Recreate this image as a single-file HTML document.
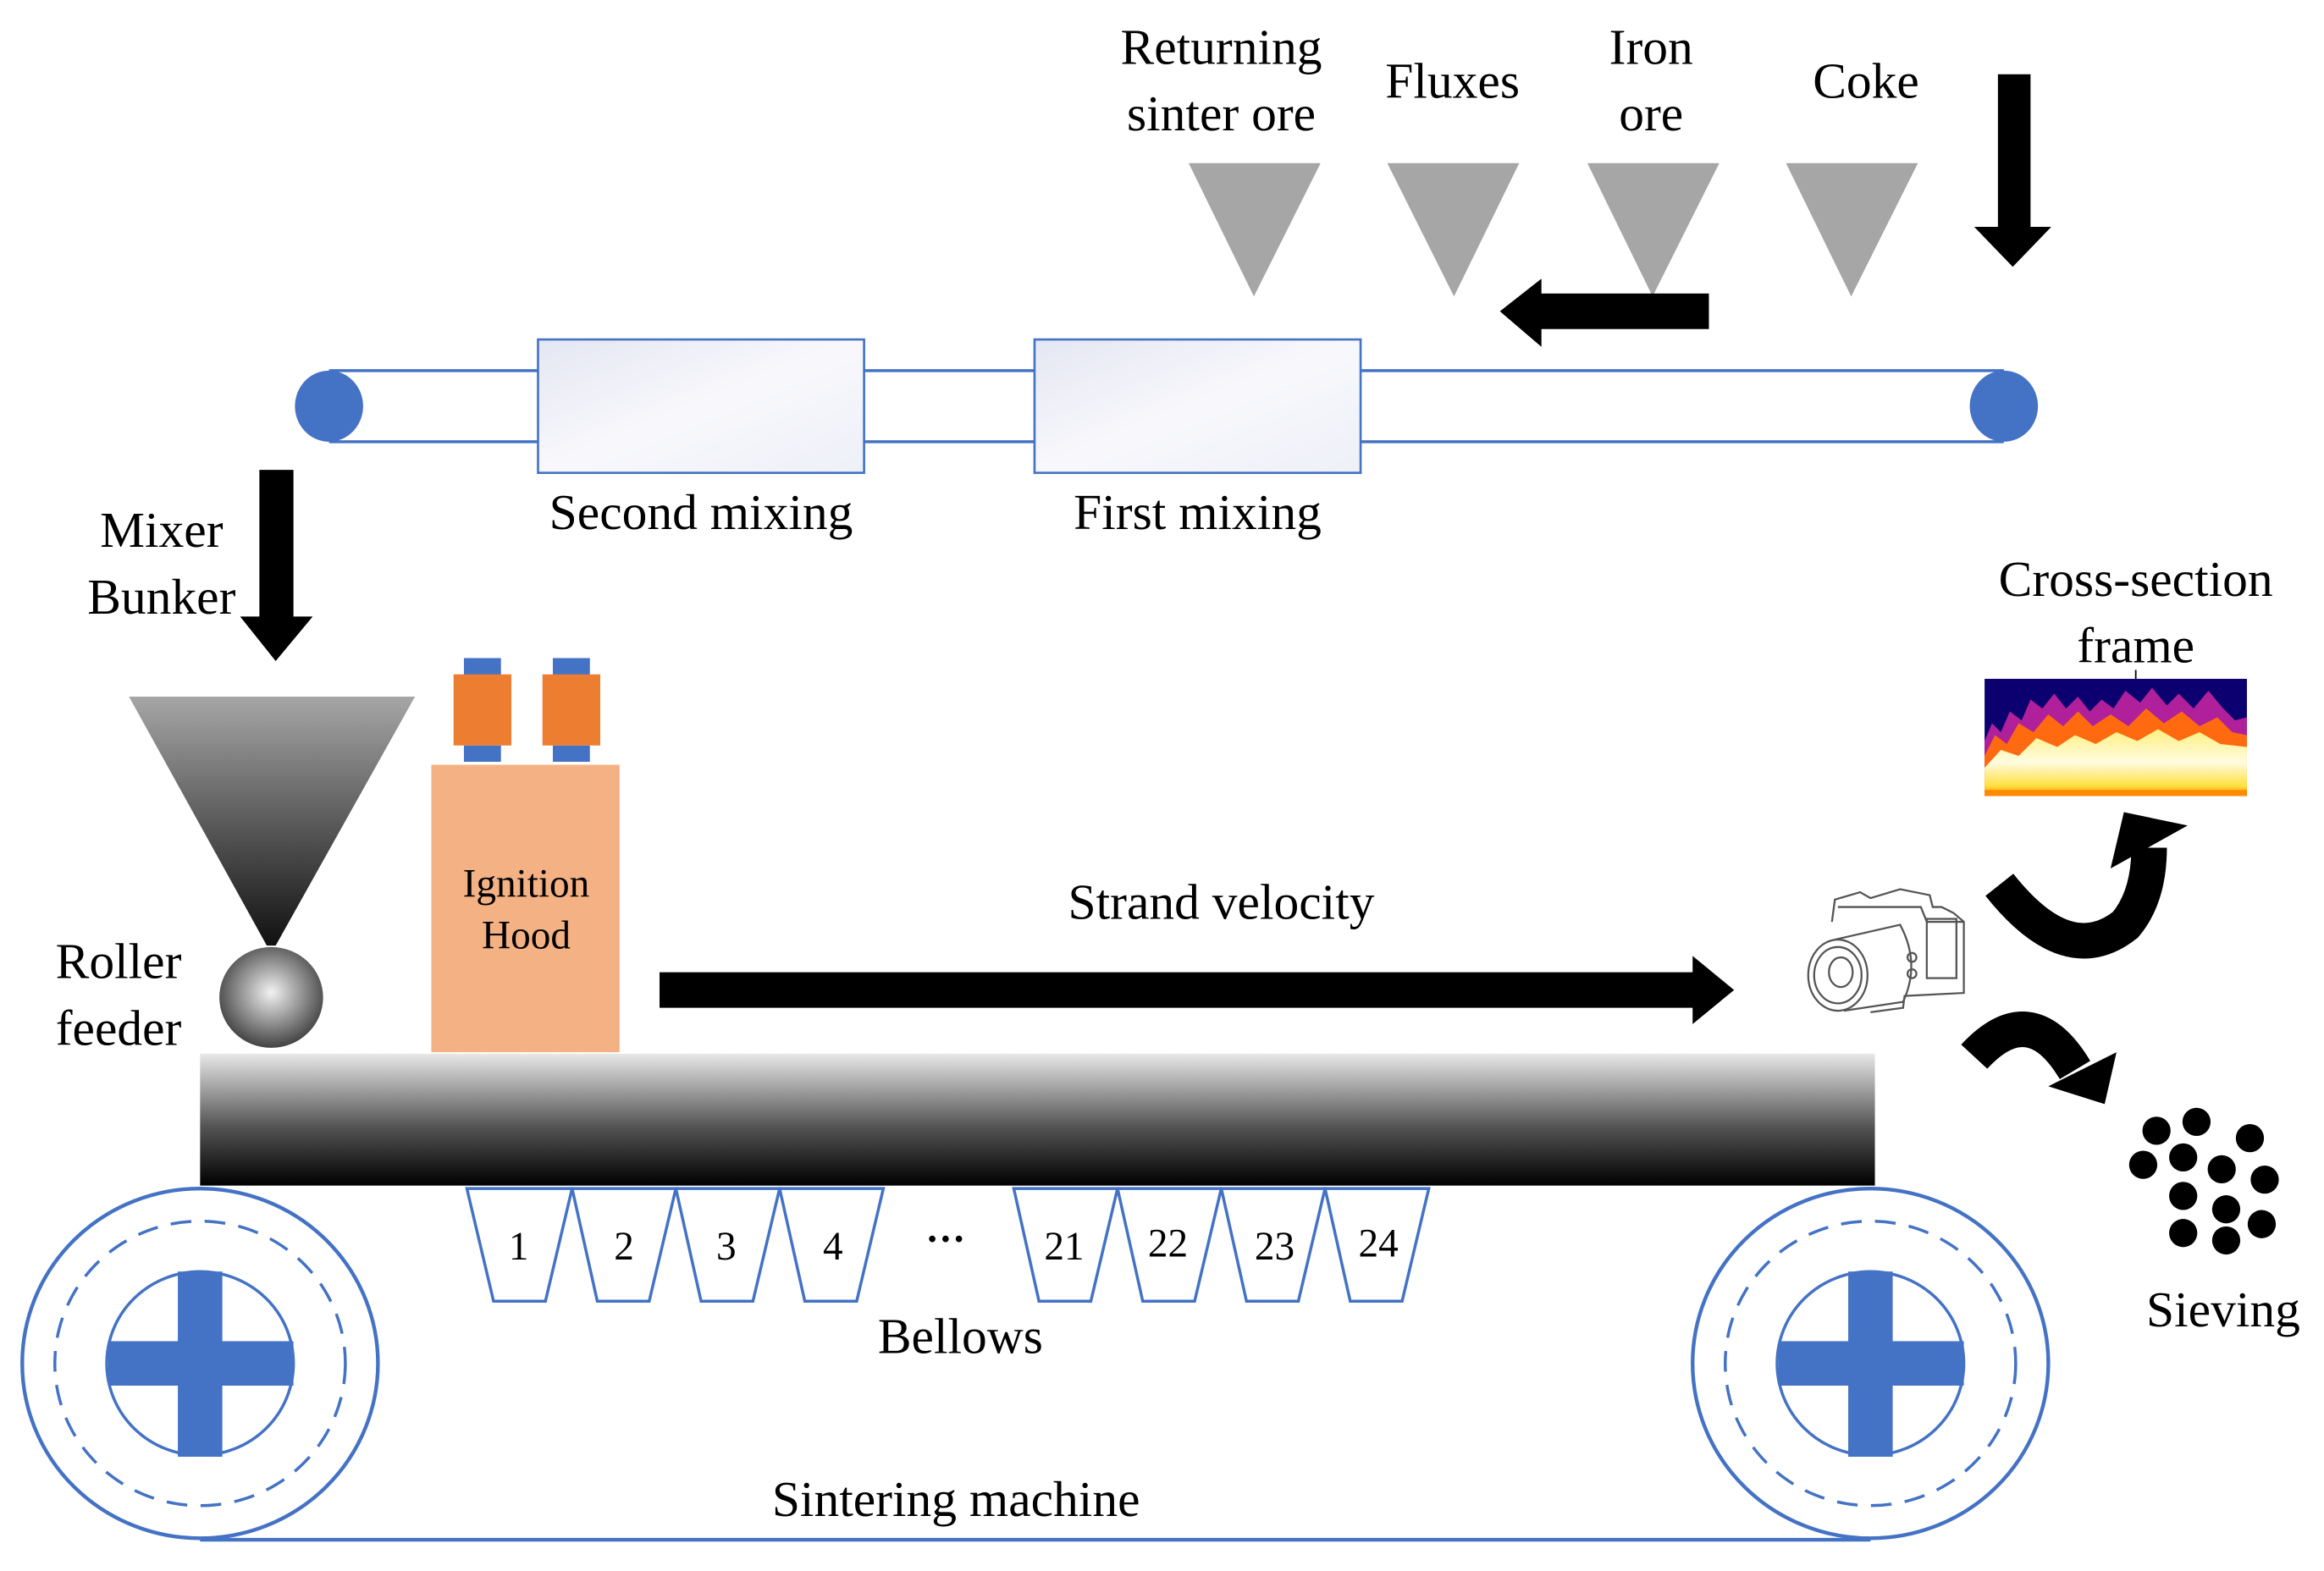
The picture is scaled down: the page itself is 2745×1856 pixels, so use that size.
<!DOCTYPE html>
<html><head><meta charset="utf-8"><style>
html,body{margin:0;padding:0;background:#fff;}
svg{display:block;}
text{font-family:"Liberation Serif","Times New Roman","DejaVu Serif",serif;fill:#000;}
</style></head><body>
<svg width="2745" height="1856" viewBox="0 0 1568 1060" xmlns="http://www.w3.org/2000/svg" font-family="Liberation Serif, Times New Roman, DejaVu Serif, serif">
<defs>
<linearGradient id="hop" x1="0" y1="0" x2="0" y2="1"><stop offset="0" stop-color="#a6a6a6"/><stop offset="1" stop-color="#111"/></linearGradient>
<linearGradient id="bar" x1="0" y1="0" x2="0" y2="1"><stop offset="0" stop-color="#e8e8e8"/><stop offset="0.55" stop-color="#555"/><stop offset="1" stop-color="#000"/></linearGradient>
<radialGradient id="ball" cx="0.5" cy="0.45" r="0.6"><stop offset="0" stop-color="#f2f2f2"/><stop offset="1" stop-color="#333"/></radialGradient>
<linearGradient id="box" x1="0" y1="0" x2="1" y2="1"><stop offset="0" stop-color="#e4e6f2"/><stop offset="0.5" stop-color="#f8f8fc"/><stop offset="1" stop-color="#eef0f8"/></linearGradient>
<linearGradient id="heat" x1="0" y1="0" x2="0" y2="1"><stop offset="0" stop-color="#fff080"/><stop offset="0.5" stop-color="#fffbe0"/><stop offset="0.85" stop-color="#ffe040"/><stop offset="1" stop-color="#ff8a00"/></linearGradient>
</defs>

<line x1="222" y1="250" x2="1352" y2="250" stroke="#4472c4" stroke-width="2"/>
<line x1="222" y1="298" x2="1352" y2="298" stroke="#4472c4" stroke-width="2"/>
<ellipse cx="222" cy="274" rx="23" ry="24" fill="#4472c4"/>
<ellipse cx="1352" cy="274" rx="23" ry="24" fill="#4472c4"/>
<rect x="363" y="229" width="220" height="90" fill="url(#box)" stroke="#4472c4" stroke-width="1.5"/>
<rect x="698" y="229" width="220" height="90" fill="url(#box)" stroke="#4472c4" stroke-width="1.5"/>
<text x="473" y="357" font-size="34" text-anchor="middle">Second mixing</text>
<text x="808" y="357" font-size="34" text-anchor="middle">First mixing</text>

<g fill="#a6a6a6">
<polygon points="802,110 891,110 846,200"/>
<polygon points="936,110 1025,110 981,200"/>
<polygon points="1071,110 1160,110 1115,200"/>
<polygon points="1205,110 1294,110 1249,200"/>
</g>
<text x="824" y="43" font-size="34" text-anchor="middle">Returning</text>
<text x="824" y="88" font-size="34" text-anchor="middle">sinter ore</text>
<text x="980" y="66" font-size="34" text-anchor="middle">Fluxes</text>
<text x="1114" y="43" font-size="34" text-anchor="middle">Iron</text>
<text x="1114" y="88" font-size="34" text-anchor="middle">ore</text>
<text x="1259" y="66" font-size="34" text-anchor="middle">Coke</text>

<polygon points="1153,198 1040,198 1040,188 1012,210 1040,234 1040,222 1153,222" fill="#000"/>
<polygon points="1348,50 1370,50 1370,153 1384,153 1358,180 1332,153 1348,153" fill="#000"/>
<polygon points="175,317 198,317 198,416 211,416 186,446 162,416 175,416" fill="#000"/>
<text x="109" y="369" font-size="34" text-anchor="middle">Mixer</text>
<text x="109" y="414" font-size="34" text-anchor="middle">Bunker</text>

<polygon points="87,470 280,470 186,638 180,638" fill="url(#hop)"/>
<ellipse cx="183" cy="673" rx="35" ry="34" fill="url(#ball)"/>
<text x="80" y="660" font-size="34" text-anchor="middle">Roller</text>
<text x="80" y="705" font-size="34" text-anchor="middle">feeder</text>

<rect x="291" y="516" width="127" height="194" fill="#f4b183"/>
<rect x="313" y="444" width="25" height="12" fill="#4472c4"/>
<rect x="313" y="503" width="25" height="11" fill="#4472c4"/>
<rect x="306" y="455" width="39" height="48" fill="#ed7d31"/>
<rect x="373" y="444" width="25" height="12" fill="#4472c4"/>
<rect x="373" y="503" width="25" height="11" fill="#4472c4"/>
<rect x="366" y="455" width="39" height="48" fill="#ed7d31"/>
<text x="355" y="605" font-size="27" text-anchor="middle">Ignition</text>
<text x="355" y="640" font-size="27" text-anchor="middle">Hood</text>

<text x="824" y="620" font-size="34" text-anchor="middle">Strand velocity</text>
<polygon points="445,656 1142,656 1142,645 1170,668 1142,691 1142,680 445,680" fill="#000"/>

<rect x="135" y="711" width="1130" height="89" fill="url(#bar)"/>

<g fill="none" stroke="#4472c4" stroke-width="2">
<polygon points="315,802 386,802 368,878 333,878"/>
<polygon points="386,802 456,802 438,878 403,878"/>
<polygon points="456,802 526,802 508,878 473,878"/>
<polygon points="526,802 596,802 578,878 543,878"/>
<polygon points="684,802 754,802 736,878 701,878"/>
<polygon points="754,802 824,802 806,878 771,878"/>
<polygon points="824,802 894,802 876,878 841,878"/>
<polygon points="894,802 964,802 946,878 911,878"/>
</g>
<g font-size="27" text-anchor="middle">
<text x="350" y="850">1</text><text x="421" y="850">2</text><text x="490" y="850">3</text><text x="562" y="850">4</text>
<text x="638" y="845" font-weight="bold">···</text>
<text x="718" y="850">21</text><text x="788" y="848">22</text><text x="860" y="850">23</text><text x="930" y="848">24</text>
</g>
<text x="648" y="913" font-size="34" text-anchor="middle">Bellows</text>

<g fill="none" stroke="#4472c4">
<ellipse cx="135" cy="920" rx="120" ry="118" stroke-width="2.5"/>
<ellipse cx="135" cy="920" rx="98" ry="96" stroke-width="2" stroke-dasharray="14,9"/>
<ellipse cx="135" cy="920" rx="63" ry="62" stroke-width="2"/>
<ellipse cx="1262" cy="920" rx="120" ry="118" stroke-width="2.5"/>
<ellipse cx="1262" cy="920" rx="98" ry="96" stroke-width="2" stroke-dasharray="14,9"/>
<ellipse cx="1262" cy="920" rx="63" ry="62" stroke-width="2"/>
<line x1="135" y1="1039" x2="1262" y2="1039" stroke-width="2.5"/>
</g>
<g fill="#4472c4">
<rect x="73" y="905" width="125" height="30"/><rect x="120" y="858" width="30" height="125"/>
<rect x="1200" y="905" width="125" height="30"/><rect x="1247" y="858" width="30" height="125"/>
</g>
<text x="645" y="1023" font-size="34" text-anchor="middle">Sintering machine</text>

<g fill="none" stroke="#555" stroke-width="1.3">
<path d="M1236,622 L1238,607 L1255,602 L1262,606 L1282,600 L1302,604 L1304,612 L1310,612 L1318,616 L1325,622 L1325,670 L1285,672 L1284,680 L1262,683"/>
<path d="M1240,612 L1296,612 L1300,622 L1325,622"/>
<ellipse cx="1240" cy="658" rx="20" ry="24"/>
<ellipse cx="1240" cy="658" rx="16" ry="19"/>
<ellipse cx="1242" cy="656" rx="8" ry="10"/>
<path d="M1238,634 L1282,624 Q1296,650 1284,676 L1244,682"/>
<circle cx="1290" cy="646" r="3"/><circle cx="1290" cy="657" r="3"/>
<rect x="1300" y="620" width="20" height="40"/>
</g>

<rect x="1339" y="458" width="177" height="79" fill="#0c0070"/>
<path d="M1339,500 L1344,488 L1350,494 L1356,480 L1364,486 L1370,472 L1378,478 L1386,468 L1394,478 L1402,470 L1410,480 L1418,472 L1426,478 L1434,466 L1444,474 L1452,464 L1462,476 L1470,468 L1480,478 L1490,466 L1500,478 L1508,486 L1516,484 L1516,537 L1339,537 Z" fill="#b0209a"/>
<path d="M1339,510 L1346,496 L1354,502 L1362,488 L1372,494 L1382,482 L1392,490 L1402,480 L1412,490 L1424,482 L1436,490 L1448,478 L1460,488 L1472,480 L1484,490 L1496,484 L1506,494 L1516,496 L1516,537 L1339,537 Z" fill="#ff6a10"/>
<path d="M1339,518 L1350,506 L1362,510 L1374,498 L1388,504 L1400,496 L1414,502 L1428,494 L1442,500 L1456,492 L1470,500 L1484,494 L1498,502 L1516,504 L1516,537 L1339,537 Z" fill="url(#heat)"/>
<rect x="1339" y="533" width="177" height="4" fill="#ff8a00"/>
<line x1="1441" y1="452" x2="1441" y2="458" stroke="#000" stroke-width="1"/>
<text x="1441" y="402" font-size="34" text-anchor="middle">Cross-section</text>
<text x="1441" y="447" font-size="34" text-anchor="middle">frame</text>

<path d="M1349,597 Q1395,655 1434,624 Q1450,605 1450,572" fill="none" stroke="#000" stroke-width="24"/>
<polygon points="1433,548 1476,557 1424,586" fill="#000"/>
<path d="M1332,713 Q1370,672 1400,722" fill="none" stroke="#000" stroke-width="24"/>
<polygon points="1382,733 1428,710 1420,745" fill="#000"/>

<g fill="#000">
<circle cx="1455" cy="763" r="9.5"/><circle cx="1482" cy="757" r="9.5"/><circle cx="1518" cy="768" r="9.5"/>
<circle cx="1446" cy="786" r="9.5"/><circle cx="1473" cy="781" r="9.5"/><circle cx="1499" cy="789" r="9.5"/>
<circle cx="1528" cy="796" r="9.5"/><circle cx="1473" cy="807" r="9.5"/><circle cx="1502" cy="816" r="9.5"/>
<circle cx="1473" cy="832" r="9.5"/><circle cx="1502" cy="837" r="9.5"/><circle cx="1526" cy="826" r="9.5"/>
</g>
<text x="1500" y="895" font-size="34" text-anchor="middle">Sieving</text>
</svg>
</body></html>
